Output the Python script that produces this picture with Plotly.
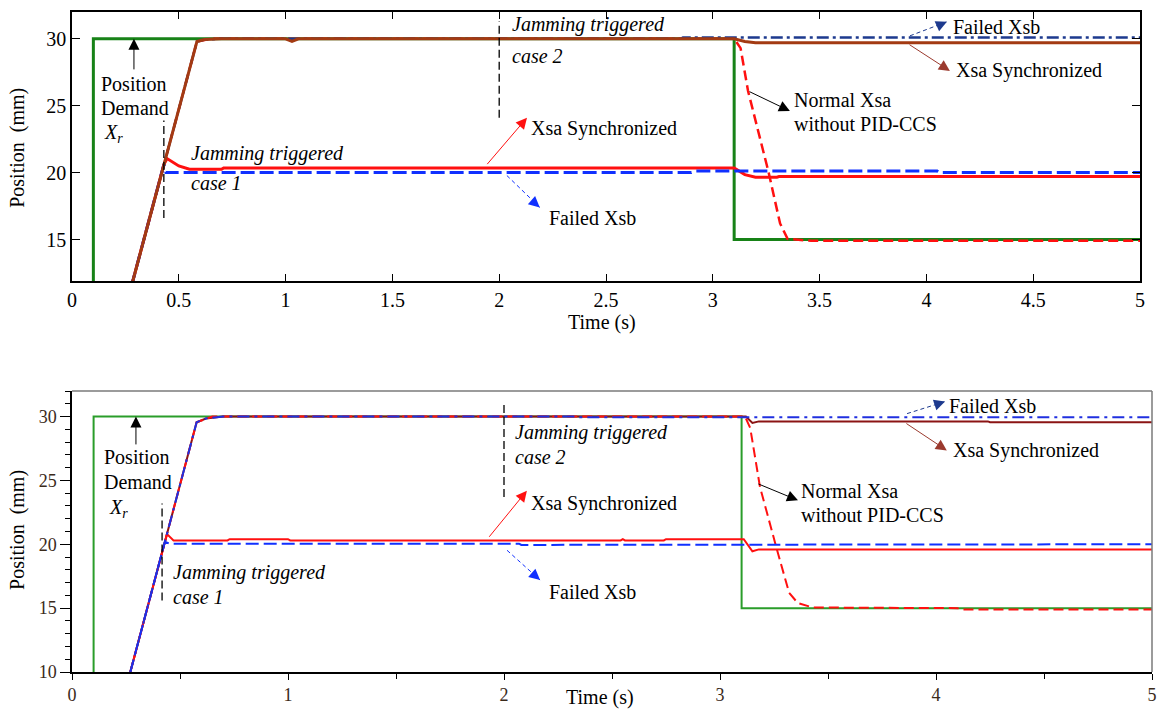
import plotly.graph_objects as go

# ---------------- DATA: top panel ----------------
top_xr_t = [0.0, 0.1, 0.1, 3.1, 3.1, 5.0]
top_xr_y = [0.0, 0.0, 30.0, 30.0, 15.0, 15.0]

top_sync2_t = [0.278, 0.43, 0.585, 0.62, 0.70, 1.00, 1.03, 1.06, 3.10, 3.15, 3.20, 5.0]
top_sync2_y = [11.5, 20.6, 29.8, 29.95, 30.0, 30.0, 29.8, 30.0, 30.0, 29.8, 29.7, 29.7]

top_sync1_t = [0.278, 0.43, 0.445, 0.50, 0.55, 0.70, 0.71, 3.10, 3.15, 3.20, 3.30, 3.31, 5.0]
top_sync1_y = [11.5, 20.6, 21.05, 20.5, 20.25, 20.25, 20.35, 20.35, 19.85, 19.65, 19.65, 19.7, 19.7]

top_fail1_t = [0.278, 0.43, 0.44, 2.90, 2.92, 4.05, 4.06, 5.0]
top_fail1_y = [11.5, 20.6, 20.0, 20.0, 20.12, 20.12, 20.0, 20.0]

top_fail2_t = [0.278, 0.43, 0.585, 0.62, 0.70, 2.85, 2.86, 5.0]
top_fail2_y = [11.5, 20.6, 29.8, 29.95, 30.0, 30.0, 30.1, 30.1]

top_normal_t = [0.278, 0.43, 0.585, 0.65, 3.10, 3.13, 3.165, 3.26, 3.315, 3.35, 3.45, 3.46, 5.0]
top_normal_y = [11.5, 20.6, 29.8, 30.0, 30.0, 29.3, 26.1, 20.1, 16.2, 15.05, 14.95, 14.9, 14.9]

top_jam_x = [0.43, 2.0]
top_jam_y0 = [16.6, 24.1]
top_jam_y1 = [23.9, 31.3]

# ---------------- DATA: bottom panel ----------------
bot_xr_t = [0.0, 0.1, 0.1, 3.1, 3.1, 5.0]
bot_xr_y = [0.0, 0.0, 30.0, 30.0, 15.0, 15.0]

bot_sync2_t = [0.27, 0.43, 0.577, 0.62, 0.70, 3.12, 3.15, 3.18, 4.24, 4.25, 5.0]
bot_sync2_y = [10.0, 20.2, 29.55, 29.85, 30.0, 30.0, 29.5, 29.62, 29.62, 29.55, 29.55]

bot_sync1_t = [0.27, 0.43, 0.44, 0.47, 0.72, 0.73, 1.00, 1.01, 2.54, 2.55, 2.56, 2.74, 2.75,
               3.11, 3.15, 3.18, 3.56, 3.57, 4.00, 4.01, 5.0]
bot_sync1_y = [10.0, 20.2, 20.8, 20.3, 20.3, 20.4, 20.4, 20.3, 20.3, 20.4, 20.3, 20.3, 20.4,
               20.4, 19.45, 19.6, 19.6, 19.65, 19.65, 19.6, 19.6]

bot_fail1_t = [0.27, 0.43, 0.45, 2.07, 2.08, 3.12, 3.13, 5.0]
bot_fail1_y = [10.0, 20.2, 20.05, 20.05, 19.95, 19.95, 20.0, 20.0]

bot_fail2_t = [0.27, 0.43, 0.577, 0.62, 0.70, 2.33, 2.34, 5.0]
bot_fail2_y = [10.0, 20.2, 29.55, 29.85, 30.0, 30.0, 29.95, 29.95]

bot_normal_t = [0.27, 0.43, 0.577, 0.65, 3.116, 3.14, 3.185, 3.26, 3.32, 3.36, 3.43, 4.10, 4.11, 5.0]
bot_normal_y = [10.0, 20.2, 29.55, 30.0, 30.0, 29.1, 24.5, 19.8, 16.2, 15.4, 15.05, 15.0, 14.9, 14.9]

bot_jam_x = [0.417, 2.0]
bot_jam_y0 = [15.6, 23.7]
bot_jam_y1 = [23.2, 31.2]

top_xticks = [0, 0.5, 1, 1.5, 2, 2.5, 3, 3.5, 4, 4.5, 5]
top_xtick_text = ["0", "0.5", "1", "1.5", "2", "2.5", "3", "3.5", "4", "4.5", "5"]
top_yticks = [15, 20, 25, 30]
bot_xticks = [0, 1, 2, 3, 4, 5]
bot_yticks = [10, 15, 20, 25, 30]

# ---------------- STYLES ----------------
SERIF = "Liberation Serif"
GREEN_T, GREEN_B = "#178217", "#2a9d2a"
BROWN_T, BROWN_B = "#a33a12", "#8b1414"
RED = "#ff1010"
BLUE = "#1030ff"
NAVY_T, NAVY_B = "#1d3a8e", "#2030e0"

fig = go.Figure()

def add(t, y, color, width, dash, xa, ya):
    fig.add_trace(go.Scatter(x=t, y=y, mode="lines", xaxis=xa, yaxis=ya,
                             line=dict(color=color, width=width, dash=dash),
                             showlegend=False, hoverinfo="skip"))

# top panel (drawing order bottom -> top)
add(top_xr_t, top_xr_y, GREEN_T, 3, "solid", "x", "y")
add(top_sync1_t, top_sync1_y, RED, 3, "solid", "x", "y")
add(top_fail1_t, top_fail1_y, BLUE, 3, "14px,5px", "x", "y")
add(top_normal_t, top_normal_y, RED, 2.5, "10px,5px", "x", "y")
add(top_fail2_t, top_fail2_y, NAVY_T, 2.5, "12px,4px,3px,4px", "x", "y")
add(top_sync2_t, top_sync2_y, BROWN_T, 3, "solid", "x", "y")

# bottom panel
add(bot_xr_t, bot_xr_y, GREEN_B, 2, "solid", "x2", "y2")
add(bot_sync2_t, bot_sync2_y, BROWN_B, 2, "solid", "x2", "y2")
add(bot_sync1_t, bot_sync1_y, RED, 2, "solid", "x2", "y2")
add(bot_normal_t, bot_normal_y, RED, 2, "10px,5px", "x2", "y2")
add(bot_fail1_t, bot_fail1_y, BLUE, 2, "13px,5px", "x2", "y2")
add(bot_fail2_t, bot_fail2_y, NAVY_B, 2, "12px,5px,3px,5px", "x2", "y2")

# jamming trigger dashed markers
for xs, y0s, y1s, xa, ya in [(top_jam_x, top_jam_y0, top_jam_y1, "x", "y"),
                             (bot_jam_x, bot_jam_y0, bot_jam_y1, "x2", "y2")]:
    for xv, a, b in zip(xs, y0s, y1s):
        fig.add_shape(type="line", xref=xa, yref=ya, x0=xv, x1=xv, y0=a, y1=b,
                      line=dict(color="black", width=1.3, dash="8px,4px"))

FS = 20

def text(x, y, s, xa, ya, anchor="left", color="black", size=FS):
    fig.add_annotation(x=x, y=y, xref=xa, yref=ya, text=s, showarrow=False,
                       xanchor=anchor, yanchor="middle",
                       font=dict(family=SERIF, size=size, color=color))

def arrow(x0, y0, x1, y1, xa, ya, color, width=1):
    fig.add_annotation(x=x1, y=y1, xref=xa, yref=ya, ax=x0, ay=y0, axref=xa, ayref=ya,
                       text="", showarrow=True, arrowhead=2, arrowsize=2.2,
                       arrowwidth=width, arrowcolor=color, standoff=0)

def dashed_arrow(x0, y0, x1, y1, xa, ya, color, pdx, pdy):
    fig.add_shape(type="line", xref=xa, yref=ya, x0=x0, y0=y0, x1=x1, y1=y1,
                  line=dict(color=color, width=1, dash="4px,3px"))
    fig.add_annotation(x=x1, y=y1, xref=xa, yref=ya, ax=pdx, ay=pdy,
                       text="", showarrow=True, arrowhead=2, arrowsize=2.2,
                       arrowwidth=1, arrowcolor=color, standoff=0)

# ----- top annotations -----
arrow(0.29, 27.6, 0.29, 30.0, "x", "y", "black")
text(0.29, 26.64, "Position", "x", "y", anchor="center")
text(0.297, 24.85, "Demand", "x", "y", anchor="center")
text(0.14, 22.9, "<i>X<sub>r</sub></i>", "x", "y")
text(0.55, 21.4, "<i>Jamming triggered</i>", "x", "y")
text(0.55, 19.2, "<i>case 1</i>", "x", "y")
text(2.05, 31.04, "<i>Jamming triggered</i>", "x", "y")
text(2.05, 28.73, "<i>case 2</i>", "x", "y")
arrow(1.938, 20.52, 2.13, 24.1, "x", "y", RED)
text(2.14, 23.28, "Xsa Synchronized", "x", "y")
dashed_arrow(2.036, 19.78, 2.19, 17.4, "x", "y", BLUE, -8, -7)
text(2.225, 16.6, "Failed Xsb", "x", "y")
arrow(3.165, 26.1, 3.361, 24.6, "x", "y", "black")
text(3.37, 25.45, "Normal Xsa", "x", "y")
text(3.37, 23.6, "without PID-CCS", "x", "y")
dashed_arrow(3.923, 30.22, 4.096, 31.27, "x", "y", NAVY_T, -9, 4)
text(4.115, 30.9, "Failed Xsb", "x", "y")
arrow(3.914, 29.63, 4.11, 27.6, "x", "y", "#9b3a2e")
text(4.13, 27.6, "Xsa Synchronized", "x", "y")

# ----- bottom annotations -----
arrow(0.296, 27.7, 0.296, 30.0, "x2", "y2", "black")
text(0.303, 26.8, "Position", "x2", "y2", anchor="center")
text(0.305, 24.84, "Demand", "x2", "y2", anchor="center")
text(0.16, 22.8, "<i>X<sub>r</sub></i>", "x2", "y2")
text(0.46, 17.8, "<i>Jamming triggered</i>", "x2", "y2")
text(0.46, 15.86, "<i>case 1</i>", "x2", "y2")
text(2.04, 28.75, "<i>Jamming triggered</i>", "x2", "y2")
text(2.04, 26.8, "<i>case 2</i>", "x2", "y2")
arrow(1.926, 20.47, 2.106, 24.2, "x2", "y2", RED)
text(2.115, 23.2, "Xsa Synchronized", "x2", "y2")
dashed_arrow(2.014, 19.53, 2.167, 17.2, "x2", "y2", BLUE, -8, -7)
text(2.2, 16.25, "Failed Xsb", "x2", "y2")
arrow(3.171, 24.77, 3.361, 23.44, "x2", "y2", "black")
text(3.365, 24.2, "Normal Xsa", "x2", "y2")
text(3.365, 22.27, "without PID-CCS", "x2", "y2")
dashed_arrow(3.866, 30.23, 4.042, 31.17, "x2", "y2", "#1d3a8e", -9, 3)
text(4.05, 30.86, "Failed Xsb", "x2", "y2")
arrow(3.856, 29.53, 4.05, 27.35, "x2", "y2", "#9b3a2e")
text(4.07, 27.35, "Xsa Synchronized", "x2", "y2")

# axis titles
for (x, y, s, ang) in [(0.0155, 0.792, "Position  (mm)", -90), (0.52, 0.547, "Time (s)", 0),
                       (0.0155, 0.2546, "Position  (mm)", -90), (0.518, 0.0183, "Time (s)", 0)]:
    fig.add_annotation(x=x, y=y, xref="paper", yref="paper", text=s, showarrow=False,
                       textangle=ang, xanchor="center", yanchor="middle",
                       font=dict(family=SERIF, size=FS, color="black"))

# bottom panel: grey top/right frame
fig.add_shape(type="line", xref="x2 domain", yref="y2 domain", x0=0, x1=1, y0=1, y1=1,
              line=dict(color="#7a7a7a", width=1.5))
fig.add_shape(type="line", xref="x2 domain", yref="y2 domain", x0=1, x1=1, y0=0, y1=1,
              line=dict(color="#7a7a7a", width=1.5))

W, H = 1158, 711
fig.update_layout(
    width=W, height=H, margin=dict(l=0, r=0, t=0, b=0, autoexpand=False),
    paper_bgcolor="white", plot_bgcolor="white", showlegend=False,
    font=dict(family=SERIF),
    xaxis=dict(domain=[72 / W, 1140 / W], range=[0, 5], anchor="y", automargin=False,
               tickvals=top_xticks, ticktext=top_xtick_text,
               ticks="inside", ticklen=7, tickcolor="black", tickwidth=1.2,
               showline=True, linecolor="black", linewidth=1.5, mirror="ticks",
               showgrid=False, zeroline=False,
               tickfont=dict(family=SERIF, size=FS, color="black")),
    yaxis=dict(domain=[1 - 281 / H, 1 - 12 / H], range=[11.9, 32], anchor="x", automargin=False,
               tickvals=top_yticks, ticks="inside", ticklen=8, tickcolor="black", tickwidth=1.2,
               showline=True, linecolor="black", linewidth=1.5, mirror="ticks",
               showgrid=False, zeroline=False,
               tickfont=dict(family=SERIF, size=FS, color="black")),
    xaxis2=dict(domain=[72 / W, 1152 / W], range=[0, 5], anchor="y2", automargin=False,
                tickvals=bot_xticks, ticks="outside", ticklen=6, tickcolor="black",
                minor=dict(dtick=0.5, tick0=0, ticks="outside", ticklen=5, tickcolor="black"),
                showline=True, linecolor="black", linewidth=1.5,
                showgrid=False, zeroline=False,
                tickfont=dict(family=SERIF, size=18, color="#3a2a1a")),
    yaxis2=dict(domain=[1 - 672 / H, 1 - 391 / H], range=[10, 32], anchor="x2", automargin=False,
                tickvals=bot_yticks, ticks="outside", ticklen=10, tickcolor="black",
                minor=dict(dtick=1, tick0=0, ticks="outside", ticklen=5, tickcolor="black"),
                showline=True, linecolor="black", linewidth=1.5,
                showgrid=False, zeroline=False,
                tickfont=dict(family=SERIF, size=18, color="#3a2a1a")),
)

fig.write_html("out.html", config={"displayModeBar": False},
               post_script="document.body.style.margin='0';document.body.style.overflow='hidden';")
